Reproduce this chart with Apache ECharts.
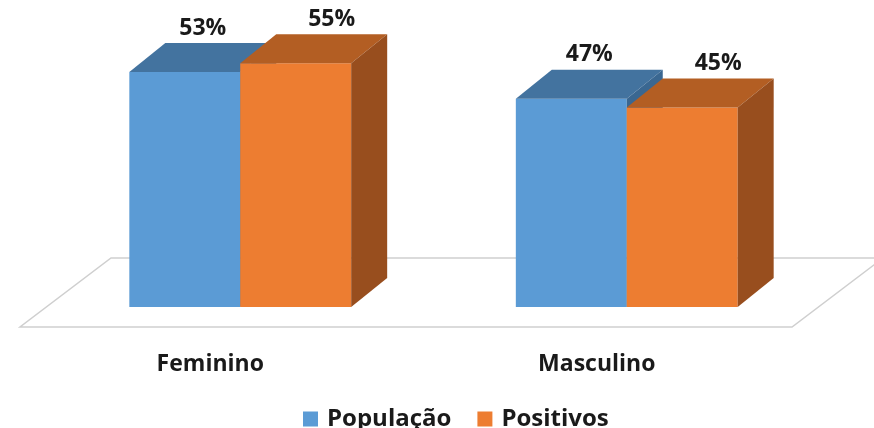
<!DOCTYPE html>
<html lang="pt">
<head>
  <meta charset="UTF-8">
  <title>População x Positivos por sexo</title>
  <style>
    html, body { margin: 0; padding: 0; background: #fff; }
    #myEcharts { width: 874px; height: 428px; }
  </style>
  <script src="https://cdn.jsdelivr.net/npm/echarts@6/dist/echarts.min.js"></script>
</head>
<body>
<div id="myEcharts"></div>
<script>
  // dados
  var categorias = ['Feminino', 'Masculino'];
  var populacao = [53, 47];
  var positivos = [55, 45];
  var nomesSeries = ['População', 'Positivos'];

  var fonte = '"Open Sans", "DejaVu Sans", sans-serif';
  // cores: frente, topo, lado
  var cores = [
    { frente: '#5b9bd5', topo: '#43739f', lado: '#3a6791' },
    { frente: '#ed7d31', topo: '#b35e23', lado: '#984e1e' }
  ];
  var prof = { dx: 36, dy: -29 };

  var myChart = echarts.init(document.getElementById('myEcharts'));

  function toPairs(arr) {
    return arr.map(function (v, i) { return [i, v]; });
  }

  // barra 3D: frente + topo + lado
  function barra3d(s) {
    return function (params, api) {
      var cat = api.value(0);
      var val = api.value(1);
      var base = api.coord([cat, 0]);
      var topo = api.coord([cat, val]);
      var banda = api.size([1, 0])[0];
      var bw = banda * 0.287;
      var x0 = base[0] + (s === 0 ? -bw : 0);
      var ty = topo[1], by = base[1];
      var dx = prof.dx, dy = prof.dy;
      var c = cores[s];
      return {
        type: 'group',
        children: [
          { type: 'rect', shape: { x: x0, y: ty, width: bw, height: by - ty }, style: { fill: c.frente } },
          { type: 'polygon', shape: { points: [[x0, ty], [x0 + bw, ty], [x0 + bw + dx, ty + dy], [x0 + dx, ty + dy]] }, style: { fill: c.topo } },
          { type: 'polygon', shape: { points: [[x0 + bw, ty], [x0 + bw + dx, ty + dy], [x0 + bw + dx, by + dy], [x0 + bw, by]] }, style: { fill: c.lado } },
          {
            type: 'text',
            style: {
              x: x0 + bw / 2 + (s === 0 ? dx / 2 : dx),
              y: ty + dy - 15,
              text: val + '%',
              align: 'center',
              verticalAlign: 'middle',
              fill: '#1a1a1a',
              font: 'bold 23px ' + fonte
            }
          }
        ]
      };
    };
  }

  // piso (plano de fundo)
  function piso(params, api) {
    var cs = params.coordSys;
    var fundo = cs.y + cs.height;
    var fy = fundo + 20, byy = fundo - 49;
    var fl = cs.x - 27, fr = cs.x + cs.width - 28;
    return {
      type: 'polygon',
      shape: { points: [[fl, fy], [fr, fy], [fr + 91, byy], [fl + 91, byy]] },
      style: { fill: '#fff', stroke: '#cfcfcf', lineWidth: 1.5 }
    };
  }

  var option = {
    animation: false,
    grid: { left: 47, right: 54, top: 41, bottom: 121 },
    legend: {
      data: nomesSeries,
      left: 298,
      top: 402,
      icon: 'rect',
      itemWidth: 15,
      itemHeight: 15,
      itemGap: 26,
      textStyle: { fontFamily: fonte, fontWeight: 'bold', fontSize: 24, color: '#1a1a1a', padding: [0, 0, 0, 4] }
    },
    xAxis: {
      type: 'category',
      data: categorias,
      axisLine: { show: false },
      axisTick: { show: false },
      axisLabel: {
        margin: 46,
        padding: [0, 60, 0, 0],
        fontFamily: fonte,
        fontWeight: 'bold',
        fontSize: 23,
        color: '#1a1a1a'
      }
    },
    yAxis: { type: 'value', min: 0, max: 60, show: false },
    series: [
      { type: 'custom', name: 'piso', renderItem: piso, data: [[0, 0]], silent: true, z: 1 },
      { type: 'custom', name: nomesSeries[0], renderItem: barra3d(0), encode: { x: 0, y: 1 }, itemStyle: { color: cores[0].frente }, data: toPairs(populacao), z: 2 },
      { type: 'custom', name: nomesSeries[1], renderItem: barra3d(1), encode: { x: 0, y: 1 }, itemStyle: { color: cores[1].frente }, data: toPairs(positivos), z: 3 }
    ]
  };

  myChart.setOption(option);
</script>
</body>
</html>
